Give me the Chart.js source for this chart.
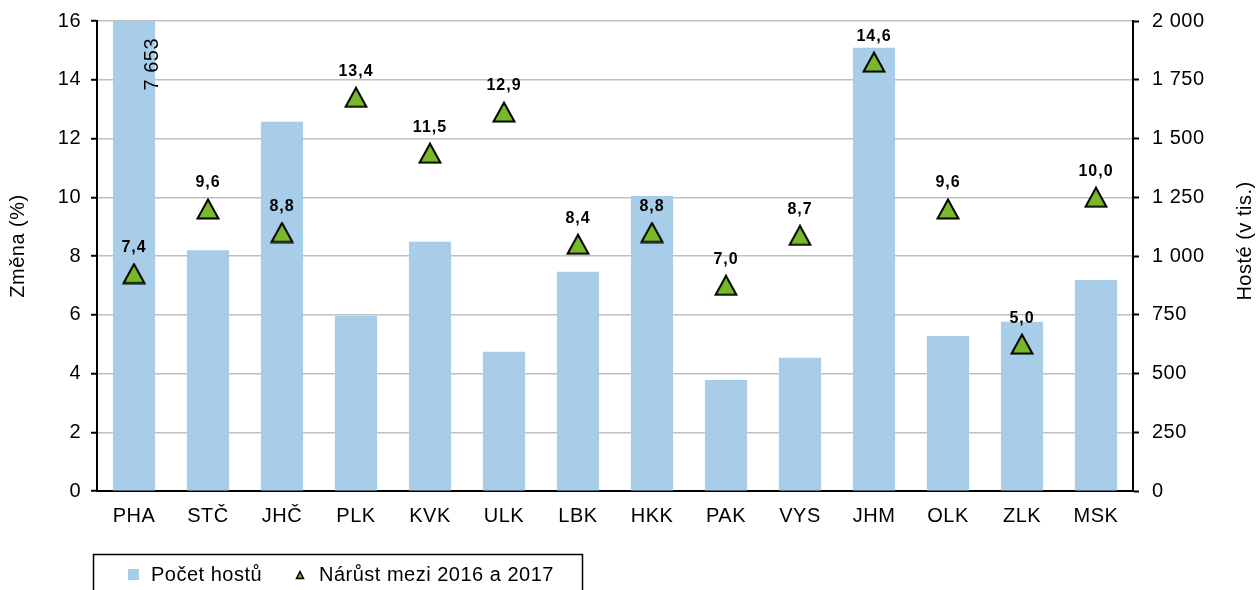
<!DOCTYPE html>
<html lang="cs">
<head>
<meta charset="utf-8">
<title>Počet hostů podle krajů</title>
<script src="https://cdn.jsdelivr.net/npm/chart.js@4.4.1/dist/chart.umd.min.js"></script>
<style>
  html, body { margin: 0; padding: 0; background: #fff; }
  #wrap { width: 1257px; height: 590px; }
</style>
</head>
<body>
<div id="wrap"><canvas id="graf" width="1257" height="590"></canvas></div>
<script>
  // kraje, počet hostů (tis.) a meziroční nárůst (%)
  const kraje = ["PHA", "STČ", "JHČ", "PLK", "KVK", "ULK", "LBK", "HKK", "PAK", "VYS", "JHM", "OLK", "ZLK", "MSK"];
  const hoste = [7653, 1025, 1571, 746, 1061, 593, 933, 1255, 472, 567, 1886, 660, 720, 898];
  const narust = [7.4, 9.6, 8.8, 13.4, 11.5, 12.9, 8.4, 8.8, 7.0, 8.7, 14.6, 9.6, 5.0, 10.0];

  const FONT = '"Liberation Sans", Arial, sans-serif';
  const MODRA = "#a7cde8";
  const ZELENA = "#78b82a";
  const ROZPAL = "0.5px";

  // mezera jako oddělovač tisíců, čárka jako desetinná
  const tisice = (v) => String(Math.round(v)).replace(/\B(?=(\d{3})+(?!\d))/g, " ");
  const desetiny = (v) => v.toFixed(1).replace(".", ",");

  function trojuhelnik(w, h, lw) {
    const c = document.createElement("canvas");
    c.width = w + 3;
    c.height = h + 3;
    const g = c.getContext("2d");
    g.beginPath();
    g.moveTo(c.width / 2, 1.5);
    g.lineTo(c.width - 1.5, c.height - 1.5);
    g.lineTo(1.5, c.height - 1.5);
    g.closePath();
    g.fillStyle = ZELENA;
    g.fill();
    g.lineWidth = lw;
    g.strokeStyle = "#000";
    g.stroke();
    return c;
  }

  const znacka = trojuhelnik(21, 19, 2);
  const znackaLegenda = trojuhelnik(7, 7, 1.5);

  const popisky = {
    id: "popisky",
    beforeDraw(chart) {
      chart.ctx.letterSpacing = ROZPAL;
    },
    afterDatasetsDraw(chart) {
      const ctx = chart.ctx;
      const area = chart.chartArea;
      ctx.save();
      ctx.letterSpacing = "1px";
      ctx.fillStyle = "#000";

      // hodnoty nárůstu nad trojúhelníky
      ctx.font = "bold 16px " + FONT;
      ctx.textAlign = "center";
      ctx.textBaseline = "middle";
      chart.getDatasetMeta(0).data.forEach((pt, i) => {
        ctx.fillText(desetiny(narust[i]), pt.x, pt.y - 26);
      });

      // přetékající sloupec PHA
      ctx.letterSpacing = ROZPAL;
      const bary = chart.getDatasetMeta(1).data;
      hoste.forEach((v, i) => {
        if (v <= chart.scales.y2.max) return;
        ctx.save();
        ctx.translate(bary[i].x + 18, area.top + 17);
        ctx.rotate(-Math.PI / 2);
        ctx.font = "20px " + FONT;
        ctx.textAlign = "right";
        ctx.textBaseline = "middle";
        ctx.fillText(tisice(v), 0, 0);
        ctx.restore();
      });
      ctx.restore();
    },
    afterDraw(chart) {
      const ctx = chart.ctx;
      const area = chart.chartArea;
      const stred = (area.top + area.bottom) / 2;
      ctx.save();
      ctx.letterSpacing = ROZPAL;
      ctx.fillStyle = "#000";
      ctx.font = "20px " + FONT;
      ctx.textAlign = "center";
      ctx.textBaseline = "middle";

      // názvy os
      ctx.save();
      ctx.translate(18, stred - 10);
      ctx.rotate(-Math.PI / 2);
      ctx.fillText("Změna (%)", 0, 0);
      ctx.restore();
      ctx.save();
      ctx.translate(1245, stred - 15);
      ctx.rotate(-Math.PI / 2);
      ctx.fillText("Hosté (v tis.)", 0, 0);
      ctx.restore();

      // legenda
      const ds = chart.data.datasets;
      ctx.lineWidth = 1.5;
      ctx.strokeStyle = "#000";
      ctx.strokeRect(93.5, 554.5, 489, 60);
      ctx.fillStyle = ds[1].backgroundColor;
      ctx.fillRect(128, 569, 11, 11);
      ctx.fillStyle = "#000";
      ctx.textAlign = "left";
      ctx.fillText(ds[1].label, 151, 575);
      ctx.drawImage(znackaLegenda, 300 - znackaLegenda.width / 2, 575 - znackaLegenda.height / 2);
      ctx.fillText(ds[0].label, 319, 575);
      ctx.restore();
    },
  };

  const osaTick = { color: "#000", font: { family: FONT, size: 20 } };

  // pevná šířka os, bez extra odsazení od popisků
  const pevnaSirka = (w) => (s) => {
    s.width = w;
    s.paddingTop = 0;
    s.paddingBottom = 0;
  };

  new Chart(document.getElementById("graf"), {
    type: "bar",
    data: {
      labels: kraje,
      datasets: [
        {
          type: "line",
          label: "Nárůst mezi 2016 a 2017",
          data: narust,
          yAxisID: "y",
          showLine: false,
          pointStyle: znacka,
          pointRadius: 11,
          pointHoverRadius: 11,
          backgroundColor: ZELENA,
          borderColor: "#000",
          order: 0,
          clip: false,
        },
        {
          label: "Počet hostů",
          data: hoste,
          yAxisID: "y2",
          backgroundColor: MODRA,
          categoryPercentage: 1,
          barPercentage: 0.57,
          order: 1,
          clip: 0,
        },
      ],
    },
    options: {
      responsive: false,
      animation: false,
      events: [],
      layout: { padding: { top: 21 } },
      plugins: { legend: { display: false }, tooltip: { enabled: false } },
      scales: {
        x: {
          grid: { display: false, drawTicks: false },
          border: { color: "#000", width: 2 },
          ticks: { ...osaTick, padding: 13 },
          afterFit: (s) => { s.height = 99; },
        },
        y: {
          position: "left",
          min: 0,
          max: 16,
          ticks: { ...osaTick, stepSize: 2, padding: 10 },
          grid: { color: "#c0c0c0", lineWidth: 1.5, tickColor: "#000", tickLength: 6, tickWidth: 2 },
          border: { color: "#000", width: 2 },
          afterFit: pevnaSirka(97),
        },
        y2: {
          position: "right",
          min: 0,
          max: 2000,
          ticks: { ...osaTick, stepSize: 250, padding: 13, callback: (v) => tisice(v) },
          grid: { drawOnChartArea: false, tickColor: "#000", tickLength: 6, tickWidth: 2 },
          border: { color: "#000", width: 2 },
          afterFit: pevnaSirka(124),
        },
      },
    },
    plugins: [popisky],
  });
</script>
</body>
</html>
